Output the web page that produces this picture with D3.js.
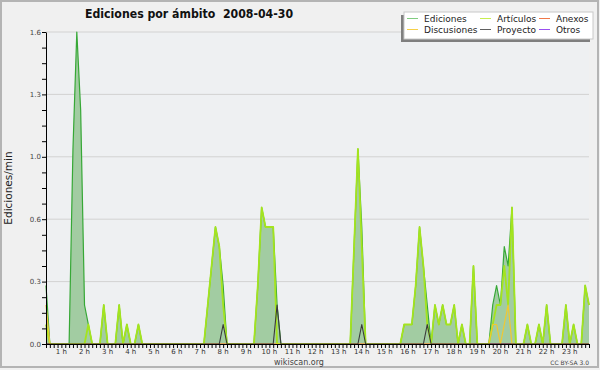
<!DOCTYPE html>
<html><head><meta charset="utf-8">
<script src="https://cdn.jsdelivr.net/npm/d3@7"></script>
<style>html,body{margin:0;padding:0;background:#f0f0f0;} svg{display:block;}</style>
</head><body>
<svg id="c" width="600" height="370"></svg>
<script>
// ---- data (edits per minute, 10-minute bins starting 00:20; one row per hour) ----
const startMinute = 20;
const stepMinutes = 10;
const seriesNames = ["Ediciones", "Artículos", "Anexos", "Discusiones", "Proyecto", "Otros"];
const hourLabels = ["1 h","2 h","3 h","4 h","5 h","6 h","7 h","8 h","9 h","10 h","11 h","12 h",
  "13 h","14 h","15 h","16 h","17 h","18 h","19 h","20 h","21 h","22 h","23 h"];
const yTickValues = [0, 0.32, 0.64, 0.96, 1.28, 1.6];

const ediciones = [
  0.3, 0, 0, 0,
  0, 0, 0, 1.0, 1.6, 1.2,
  0.2, 0.1, 0, 0, 0, 0.2,
  0, 0, 0, 0.2, 0, 0.1,
  0, 0, 0.1, 0, 0, 0,
  0, 0, 0, 0, 0, 0,
  0, 0, 0, 0, 0, 0,
  0, 0, 0.2, 0.4, 0.6, 0.5,
  0.3, 0, 0, 0, 0, 0,
  0, 0, 0, 0.3, 0.7, 0.6,
  0.6, 0.6, 0.2, 0, 0, 0,
  0, 0, 0, 0, 0, 0,
  0, 0, 0, 0, 0, 0,
  0, 0, 0, 0, 0.5, 1.0,
  0.6, 0, 0, 0, 0, 0,
  0, 0, 0, 0, 0, 0.1,
  0.1, 0.1, 0.3, 0.6, 0.4, 0.2,
  0, 0.2, 0.1, 0.2, 0.1, 0.1,
  0.2, 0, 0.1, 0, 0, 0.4,
  0, 0, 0, 0, 0.2, 0.3,
  0.2, 0.5, 0.4, 0.7, 0, 0,
  0, 0.1, 0, 0, 0.1, 0,
  0.2, 0, 0, 0, 0, 0.2,
  0, 0.1, 0, 0, 0.3, 0.2
];
const articulos = [
  0.1, 0, 0, 0,
  0, 0, 0, 0, 0, 0,
  0, 0.1, 0, 0, 0, 0.2,
  0, 0, 0, 0.2, 0, 0.1,
  0, 0, 0.1, 0, 0, 0,
  0, 0, 0, 0, 0, 0,
  0, 0, 0, 0, 0, 0,
  0, 0, 0.2, 0.4, 0.6, 0.5,
  0.2, 0, 0, 0, 0, 0,
  0, 0, 0, 0.3, 0.7, 0.6,
  0.6, 0.6, 0, 0, 0, 0,
  0, 0, 0, 0, 0, 0,
  0, 0, 0, 0, 0, 0,
  0, 0, 0, 0, 0.5, 1.0,
  0.5, 0, 0, 0, 0, 0,
  0, 0, 0, 0, 0, 0.1,
  0.1, 0.1, 0.3, 0.6, 0.4, 0.1,
  0, 0.2, 0.1, 0.2, 0.1, 0.1,
  0.2, 0, 0.1, 0, 0, 0.4,
  0, 0, 0, 0, 0.1, 0.2,
  0.2, 0.4, 0.2, 0.7, 0, 0,
  0, 0.1, 0, 0, 0.1, 0,
  0.2, 0, 0, 0, 0, 0.2,
  0, 0.1, 0, 0, 0.3, 0.2
];
const anexos = [
  0, 0, 0, 0,
  0, 0, 0, 0, 0, 0,
  0, 0, 0, 0, 0, 0,
  0, 0, 0, 0, 0, 0,
  0, 0, 0, 0, 0, 0,
  0, 0, 0, 0, 0, 0,
  0, 0, 0, 0, 0, 0,
  0, 0, 0, 0, 0, 0,
  0, 0, 0, 0, 0, 0,
  0, 0, 0, 0, 0, 0,
  0, 0, 0, 0, 0, 0,
  0, 0, 0, 0, 0, 0,
  0, 0, 0, 0, 0, 0,
  0, 0, 0, 0, 0, 0,
  0, 0, 0, 0, 0, 0,
  0, 0, 0, 0, 0, 0,
  0, 0, 0, 0, 0, 0,
  0, 0, 0, 0, 0, 0,
  0, 0, 0, 0, 0, 0,
  0, 0, 0, 0, 0, 0,
  0, 0, 0, 0, 0, 0,
  0, 0, 0, 0, 0, 0,
  0, 0, 0, 0, 0, 0,
  0, 0, 0, 0, 0, 0
];
const discusiones = [
  0.2, 0, 0, 0,
  0, 0, 0, 0, 0, 0,
  0, 0, 0, 0, 0, 0,
  0, 0, 0, 0, 0, 0,
  0, 0, 0, 0, 0, 0,
  0, 0, 0, 0, 0, 0,
  0, 0, 0, 0, 0, 0,
  0, 0, 0, 0, 0, 0,
  0, 0, 0, 0, 0, 0,
  0, 0, 0, 0, 0, 0,
  0, 0, 0, 0, 0, 0,
  0, 0, 0, 0, 0, 0,
  0, 0, 0, 0, 0, 0,
  0, 0, 0, 0, 0, 0,
  0, 0, 0, 0, 0, 0,
  0, 0, 0, 0, 0, 0,
  0, 0, 0, 0, 0, 0,
  0, 0, 0, 0, 0, 0,
  0, 0, 0, 0, 0, 0,
  0, 0, 0, 0, 0.1, 0.1,
  0, 0.1, 0.2, 0, 0, 0,
  0, 0, 0, 0, 0, 0,
  0, 0, 0, 0, 0, 0,
  0, 0, 0, 0, 0, 0
];
const proyecto = [
  0, 0, 0, 0,
  0, 0, 0, 0, 0, 0,
  0, 0, 0, 0, 0, 0,
  0, 0, 0, 0, 0, 0,
  0, 0, 0, 0, 0, 0,
  0, 0, 0, 0, 0, 0,
  0, 0, 0, 0, 0, 0,
  0, 0, 0, 0, 0, 0,
  0.1, 0, 0, 0, 0, 0,
  0, 0, 0, 0, 0, 0,
  0, 0, 0.2, 0, 0, 0,
  0, 0, 0, 0, 0, 0,
  0, 0, 0, 0, 0, 0,
  0, 0, 0, 0, 0, 0,
  0.1, 0, 0, 0, 0, 0,
  0, 0, 0, 0, 0, 0,
  0, 0, 0, 0, 0, 0.1,
  0, 0, 0, 0, 0, 0,
  0, 0, 0, 0, 0, 0,
  0, 0, 0, 0, 0, 0,
  0, 0, 0, 0, 0, 0,
  0, 0, 0, 0, 0, 0,
  0, 0, 0, 0, 0, 0,
  0, 0, 0, 0, 0, 0
];
const otros = [
  0, 0, 0, 0,
  0, 0, 0, 0, 0, 0,
  0, 0, 0, 0, 0, 0,
  0, 0, 0, 0, 0, 0,
  0, 0, 0, 0, 0, 0,
  0, 0, 0, 0, 0, 0,
  0, 0, 0, 0, 0, 0,
  0, 0, 0, 0, 0, 0,
  0, 0, 0, 0, 0, 0,
  0, 0, 0, 0, 0, 0,
  0, 0, 0, 0, 0, 0,
  0, 0, 0, 0, 0, 0,
  0, 0, 0, 0, 0, 0,
  0, 0, 0, 0, 0, 0,
  0, 0, 0, 0, 0, 0,
  0, 0, 0, 0, 0, 0,
  0, 0, 0, 0, 0, 0,
  0, 0, 0, 0, 0, 0,
  0, 0, 0, 0, 0, 0,
  0, 0, 0, 0, 0, 0,
  0, 0, 0, 0, 0, 0,
  0, 0, 0, 0, 0, 0,
  0, 0, 0, 0, 0, 0,
  0, 0, 0, 0, 0, 0
];

// ---- layout ----
const W = 600, H = 370;
const M = {left: 46, right: 589, top: 32, bottom: 344};
const colors = {
  "Ediciones": "#36a836",
  "Artículos": "#a4e41e",
  "Anexos": "#f07040",
  "Discusiones": "#f2c830",
  "Proyecto": "#3a3a3a",
  "Otros": "#9a44e8"
};
const legendColors = {
  "Ediciones": "#80cc80",
  "Artículos": "#c8ee50",
  "Anexos": "#f07848",
  "Discusiones": "#f6d048",
  "Proyecto": "#606060",
  "Otros": "#9a50f0"
};
const FONT = "'DejaVu Sans', sans-serif";

const svg = d3.select("#c");
const minutes = ediciones.map((_, i) => startMinute + i * stepMinutes);
const x = d3.scaleLinear().domain([minutes[0], minutes[minutes.length - 1]]).range([M.left, M.right]);
const y = d3.scaleLinear().domain([0, 1.6]).range([M.bottom, M.top]);

// background + frame
svg.append("rect").attr("x", 0).attr("y", 0).attr("width", W).attr("height", H).attr("fill", "#f0f0f0");
svg.append("rect").attr("x", M.left).attr("y", M.top).attr("width", M.right - M.left)
  .attr("height", M.bottom - M.top).attr("fill", "#eef0f2");
svg.append("rect").attr("x", 1).attr("y", 1).attr("width", W - 3).attr("height", H - 4)
  .attr("fill", "none").attr("stroke", "#b4b4b4").attr("stroke-width", 2);

// gridlines
svg.append("g").selectAll("line").data(yTickValues.slice(1)).join("line")
  .attr("x1", M.left).attr("x2", M.right)
  .attr("y1", d => y(d)).attr("y2", d => y(d))
  .attr("stroke", "#d2d2d2").attr("stroke-width", 1);

// area for Ediciones
const area = d3.area().x((d, i) => x(minutes[i])).y0(y(0)).y1(d => y(d));
svg.append("path").datum(ediciones).attr("d", area).attr("fill", "#a2cca2");

const line = d3.line().x((d, i) => x(minutes[i])).y(d => y(d));
const seriesData = {
  "Ediciones": ediciones, "Artículos": articulos, "Anexos": anexos,
  "Discusiones": discusiones, "Proyecto": proyecto, "Otros": otros
};
const drawOrder = [["Otros", 1.1], ["Anexos", 1.2], ["Ediciones", 1.2], ["Artículos", 1.8], ["Discusiones", 1.2], ["Proyecto", 1.1]];
drawOrder.forEach(([name, w]) => {
  svg.append("path").datum(seriesData[name]).attr("d", line)
    .attr("fill", "none").attr("stroke", colors[name]).attr("stroke-width", w)
    .attr("stroke-linejoin", "round");
});

// x axis
const xAxis = svg.append("g").attr("transform", `translate(0,${M.bottom})`)
  .call(d3.axisBottom(x).tickValues(minutes).tickSize(4).tickSizeOuter(0).tickFormat(""));
xAxis.select(".domain").attr("stroke", "#000");
xAxis.selectAll(".tick line").attr("stroke", "#000");
svg.append("g").selectAll("text").data(hourLabels).join("text")
  .attr("x", (d, i) => x((i + 1) * 60))
  .attr("y", 353.5)
  .attr("text-anchor", "middle")
  .attr("font-family", FONT).attr("font-size", 7).attr("fill", "#333")
  .text(d => d);

// y axis
const minorTicks = d3.range(0, 21).map(k => +(k * 0.08).toFixed(2));
const yAxis = svg.append("g").attr("transform", `translate(${M.left},0)`)
  .call(d3.axisLeft(y).tickValues(minorTicks).tickSize(4).tickSizeOuter(0)
    .tickFormat(d => yTickValues.some(v => Math.abs(v - d) < 1e-6) ? d3.format(".1f")(d) : ""));
yAxis.select(".domain").attr("stroke", "#000");
yAxis.selectAll(".tick line").attr("stroke", "#000");
yAxis.selectAll(".tick text").attr("font-family", FONT).attr("font-size", 7).attr("fill", "#444").attr("x", -5).attr("dy", "0.3em");

svg.append("text")
  .attr("transform", "translate(12,188) rotate(-90)")
  .attr("text-anchor", "middle")
  .attr("font-family", FONT).attr("font-size", 10.5).attr("fill", "#222")
  .text("Ediciones/min");

// title
svg.append("text").attr("x", 85).attr("y", 18)
  .attr("font-family", "'DejaVu Sans Condensed', 'DejaVu Sans', sans-serif")
  .attr("font-weight", "bold").attr("font-size", 12.2).attr("fill", "#111")
  .style("white-space", "pre")
  .text("Ediciones por ámbito  2008-04-30");

// footer
svg.append("text").attr("x", 299).attr("y", 364.5).attr("text-anchor", "middle")
  .attr("font-family", FONT).attr("font-size", 8).attr("fill", "#444").text("wikiscan.org");
svg.append("text").attr("x", 589).attr("y", 365).attr("text-anchor", "end")
  .attr("font-family", FONT).attr("font-size", 6).attr("fill", "#444").text("CC BY-SA 3.0");

// legend
const lg = svg.append("g");
const L = {x: 404, y: 12, w: 189, h: 27};
lg.append("rect").attr("x", L.x - 3).attr("y", L.y + 3).attr("width", L.w).attr("height", L.h).attr("fill", "#7f7f7f");
lg.append("rect").attr("x", L.x).attr("y", L.y).attr("width", L.w).attr("height", L.h)
  .attr("fill", "#fff").attr("stroke", "#c8c8c8").attr("stroke-width", 1);
const legendLayout = [
  ["Ediciones", 0, 0], ["Artículos", 1, 0], ["Anexos", 2, 0],
  ["Discusiones", 0, 1], ["Proyecto", 1, 1], ["Otros", 2, 1]
];
const colX = [407, 480, 539];
const rowY = [18.5, 29.5];
legendLayout.forEach(([name, c, r]) => {
  lg.append("line").attr("x1", colX[c]).attr("x2", colX[c] + 11)
    .attr("y1", rowY[r]).attr("y2", rowY[r])
    .attr("stroke", legendColors[name]).attr("stroke-width", 1);
  lg.append("text").attr("x", colX[c] + 17).attr("y", rowY[r] + 3.3)
    .attr("font-family", FONT).attr("font-size", 9).attr("fill", "#222")
    .text(name);
});
</script>
</body></html>
